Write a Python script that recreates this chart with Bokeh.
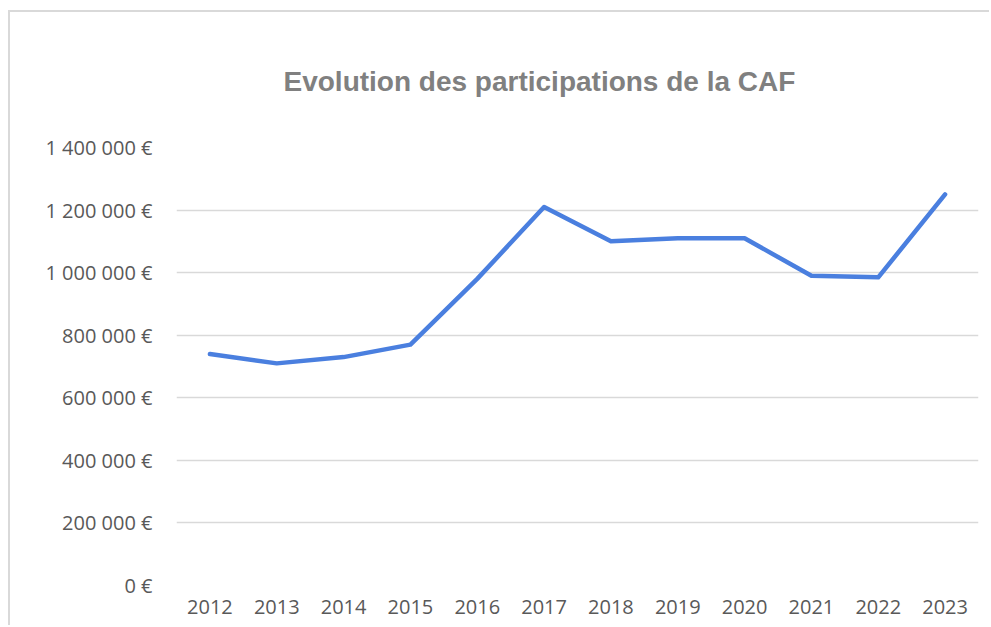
from bokeh.plotting import figure
from bokeh.models import Range1d, FixedTicker, FactorRange
from bokeh.embed import file_html
from bokeh.resources import INLINE

years = ["2012", "2013", "2014", "2015", "2016", "2017", "2018", "2019", "2020", "2021", "2022", "2023"]
participations = [740000, 710000, 730000, 770000, 980000, 1210000, 1100000, 1110000, 1110000, 990000, 985000, 1250000]
y_ticks = [0, 200000, 400000, 600000, 800000, 1000000, 1200000, 1400000]
y_tick_labels = ["0 €", "200 000 €", "400 000 €", "600 000 €", "800 000 €", "1 000 000 €", "1 200 000 €", "1 400 000 €"]
title_text = "Evolution des participations de la CAF"

p = figure(width=981, height=615, output_backend="svg", toolbar_location=None,
           x_range=FactorRange(*years, range_padding=0), y_range=Range1d(0, 1400000),
           title=title_text)
p.styles = {"margin-left": "8px", "margin-top": "10px",
            "border-left": "2px solid #d9d9d9", "border-top": "2px solid #d9d9d9"}
p.min_border_left = 166
p.min_border_right = 13
p.min_border_top = 135
p.min_border_bottom = 42
p.outline_line_color = None
p.background_fill_color = "white"
p.border_fill_color = "white"

p.title.text_font = "Liberation Sans"
p.title.text_font_style = "bold"
p.title.text_font_size = "28px"
p.title.text_color = "#808080"
p.title.align = "left"
p.title.offset = 107
p.title.standoff = 101

p.line(x=years, y=participations, line_color="#4a7fdf", line_width=4.5,
       line_join="round", line_cap="round")

p.yaxis.ticker = FixedTicker(ticks=y_ticks)
p.yaxis.major_label_overrides = {t: l for t, l in zip(y_ticks, y_tick_labels)}
p.yaxis.axis_line_color = None
p.yaxis.major_tick_line_color = None
p.yaxis.minor_tick_line_color = None
p.yaxis.major_tick_out = 0
p.yaxis.major_tick_in = 0
p.yaxis.major_label_standoff = 24
p.yaxis.major_label_text_font = "Open Sans"
p.yaxis.major_label_text_font_size = "20px"
p.yaxis.major_label_text_color = "#595959"

p.xaxis.axis_line_color = None
p.xaxis.major_tick_line_color = None
p.xaxis.minor_tick_line_color = None
p.xaxis.major_tick_out = 0
p.xaxis.major_tick_in = 0
p.xaxis.major_label_standoff = 14
p.xaxis.major_label_text_font = "Open Sans"
p.xaxis.major_label_text_font_size = "20px"
p.xaxis.major_label_text_color = "#595959"

p.xgrid.grid_line_color = None
p.ygrid.ticker = FixedTicker(ticks=y_ticks)
p.ygrid.grid_line_color = "#d9d9d9"
p.ygrid.grid_line_width = 1.5

open("out.html", "w").write(file_html(p, INLINE))
